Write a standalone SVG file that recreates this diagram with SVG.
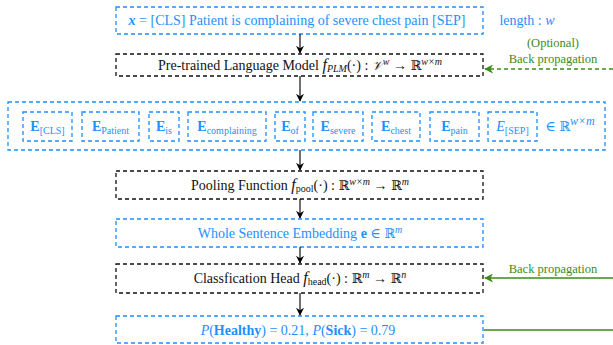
<svg xmlns="http://www.w3.org/2000/svg" width="613" height="345" viewBox="0 0 613 345">
  <defs>
    <marker id="arrowBlack" viewBox="0 0 10 10" refX="9" refY="5" markerWidth="8" markerHeight="8" markerUnits="userSpaceOnUse" orient="auto">
      <path d="M0,0 L10,5 L0,10 L3,5 Z" fill="#000"/>
    </marker>
    <marker id="arrowGreen" viewBox="0 0 10 10" refX="9" refY="5" markerWidth="9" markerHeight="9" markerUnits="userSpaceOnUse" orient="auto">
      <path d="M0,0 L10,5 L0,10 L3,5 Z" fill="#3d8a1a"/>
    </marker>
  </defs>
  <style>
    .box { fill: none; stroke-width: 1.3; stroke-dasharray: 4 3; }
    .blue { stroke: #1e8fff; }
    .black { stroke: #111; }
    .t { font-family: "Liberation Serif", "DejaVu Serif", serif; font-size: 14px; text-anchor: middle; }
    .tb { fill: #1e8fff; }
    .tk { fill: #111; }
    .tg { fill: #3d8a1a; font-family: "Liberation Serif", "DejaVu Serif", serif; font-size: 12.5px; text-anchor: middle; }
    .m { font-style: italic; }
    .bb { font-weight: bold; }
    .sub { font-size: 10px; }
    .sup { font-size: 10px; }
    .ds { font-family: "DejaVu Serif", serif; font-size: 13px; }
    .emb { font-family: "Liberation Serif", "DejaVu Serif", serif; font-size: 14px; text-anchor: middle; fill: #1e8fff; }
    .esub { font-size: 10px; font-weight: normal; }
    .conn { stroke: #111; stroke-width: 1.2; fill: none; }
    .gconn { stroke: #3d8a1a; stroke-width: 1.3; fill: none; }
  </style>

  <!-- input sentence -->
  <g id="input">
    <rect class="box blue" x="116" y="7" width="367" height="27"/>
    <text class="t tb" x="297" y="25" font-size="14.5"><tspan class="m bb">x</tspan> = [CLS] Patient is complaining of severe chest pain [SEP]</text>
  </g>
  <g id="length">
    <text class="t tb" x="527" y="25" font-size="16"><tspan>length : </tspan><tspan class="m">w</tspan></text>
  </g>

  <!-- pre-trained language model -->
  <g id="plm">
    <rect class="box black" x="116" y="54" width="367" height="22"/>
    <text class="t tk" x="300" y="70">Pre-trained Language Model <tspan class="m" font-size="16">f</tspan><tspan class="m sub" dy="2">PLM</tspan><tspan dy="-2">(·) : </tspan><tspan class="m" font-family="DejaVu Serif" font-size="13">𝒱</tspan><tspan class="m sup" dy="-5">w</tspan><tspan dy="5"> → </tspan><tspan class="ds">ℝ</tspan><tspan class="m sup" dy="-5">w×m</tspan></text>
  </g>

  <!-- token embeddings -->
  <g id="embeddings">
    <rect class="box blue" x="8" y="102" width="597" height="48"/>
    <g id="e-cls"><rect class="box blue" x="23" y="112" width="49" height="29"/>
      <text class="emb" x="47.5" y="131"><tspan class="bb">E</tspan><tspan class="esub" dy="3">[CLS]</tspan></text></g>
    <g id="e-patient"><rect class="box blue" x="82" y="112" width="57" height="29"/>
      <text class="emb" x="110.5" y="131"><tspan class="bb">E</tspan><tspan class="esub" dy="3">Patient</tspan></text></g>
    <g id="e-is"><rect class="box blue" x="149" y="112" width="30" height="29"/>
      <text class="emb" x="164" y="131"><tspan class="bb">E</tspan><tspan class="esub" dy="3">is</tspan></text></g>
    <g id="e-complaining"><rect class="box blue" x="188" y="112" width="78" height="29"/>
      <text class="emb" x="227" y="131"><tspan class="bb">E</tspan><tspan class="esub" dy="3">complaining</tspan></text></g>
    <g id="e-of"><rect class="box blue" x="275" y="112" width="30" height="29"/>
      <text class="emb" x="290" y="131"><tspan class="bb">E</tspan><tspan class="esub" dy="3">of</tspan></text></g>
    <g id="e-severe"><rect class="box blue" x="313" y="112" width="50" height="29"/>
      <text class="emb" x="338" y="131"><tspan class="bb">E</tspan><tspan class="esub" dy="3">severe</tspan></text></g>
    <g id="e-chest"><rect class="box blue" x="372" y="112" width="48" height="29"/>
      <text class="emb" x="396" y="131"><tspan class="bb">E</tspan><tspan class="esub" dy="3">chest</tspan></text></g>
    <g id="e-pain"><rect class="box blue" x="430" y="112" width="49" height="29"/>
      <text class="emb" x="454.5" y="131"><tspan class="bb">E</tspan><tspan class="esub" dy="3">pain</tspan></text></g>
    <g id="e-sep"><rect class="box blue" x="488" y="112" width="49" height="29"/>
      <text class="emb" x="512.5" y="131"><tspan class="m">E</tspan><tspan class="esub" dy="3">[SEP]</tspan></text></g>
    <text class="t tb" x="570" y="131" font-size="16"><tspan>∈ </tspan><tspan class="ds" font-size="15">ℝ</tspan><tspan class="m" font-size="12" dy="-6">w×m</tspan></text>
  </g>

  <!-- pooling -->
  <g id="pooling">
    <rect class="box black" x="116" y="171" width="367" height="28"/>
    <text class="t tk" x="300" y="190">Pooling Function <tspan class="m" font-size="16">f</tspan><tspan class="sub" dy="2">pool</tspan><tspan dy="-2">(·) : </tspan><tspan class="ds">ℝ</tspan><tspan class="m sup" dy="-5">w×m</tspan><tspan dy="5"> → </tspan><tspan class="ds">ℝ</tspan><tspan class="m sup" dy="-5">m</tspan></text>
  </g>

  <!-- sentence embedding -->
  <g id="sentence">
    <rect class="box blue" x="116" y="219" width="367" height="28"/>
    <text class="t tb" x="300" y="238">Whole Sentence Embedding <tspan class="bb">e</tspan> ∈ <tspan class="ds">ℝ</tspan><tspan class="m sup" dy="-5">m</tspan></text>
  </g>

  <!-- classification head -->
  <g id="head">
    <rect class="box black" x="116" y="264" width="367" height="29"/>
    <text class="t tk" x="300" y="283">Classfication Head <tspan class="m" font-size="16">f</tspan><tspan class="sub" dy="2">head</tspan><tspan dy="-2">(·) : </tspan><tspan class="ds">ℝ</tspan><tspan class="m sup" dy="-5">m</tspan><tspan dy="5"> → </tspan><tspan class="ds">ℝ</tspan><tspan class="m sup" dy="-5">n</tspan></text>
  </g>

  <!-- prediction -->
  <g id="output">
    <rect class="box blue" x="116" y="316" width="367" height="27"/>
    <text class="t tb" x="298" y="335" font-size="17.5"><tspan class="m">P</tspan>(<tspan class="bb">Healthy</tspan>) = 0.21, <tspan class="m">P</tspan>(<tspan class="bb">Sick</tspan>) = 0.79</text>
  </g>

  <!-- back propagation labels -->
  <g id="bp-labels">
    <text class="tg" x="553" y="47">(Optional)</text>
    <text class="tg" x="553" y="63">Back propagation</text>
    <text class="tg" x="553" y="273">Back propagation</text>
  </g>

  <!-- connectors -->
  <g id="connectors">
    <line class="conn" x1="300" y1="34" x2="300" y2="53" marker-end="url(#arrowBlack)"/>
    <line class="conn" x1="300" y1="76" x2="300" y2="101" marker-end="url(#arrowBlack)"/>
    <line class="conn" x1="300" y1="150" x2="300" y2="170" marker-end="url(#arrowBlack)"/>
    <line class="conn" x1="300" y1="199" x2="300" y2="218" marker-end="url(#arrowBlack)"/>
    <line class="conn" x1="300" y1="247" x2="300" y2="263" marker-end="url(#arrowBlack)"/>
    <line class="conn" x1="300" y1="293" x2="300" y2="315" marker-end="url(#arrowBlack)"/>
    <line class="gconn" x1="613" y1="69" x2="485" y2="69" stroke-dasharray="4 3" marker-end="url(#arrowGreen)"/>
    <line class="gconn" x1="613" y1="278" x2="485" y2="278" marker-end="url(#arrowGreen)"/>
    <line class="gconn" x1="484" y1="330" x2="613" y2="330"/>
  </g>
</svg>
